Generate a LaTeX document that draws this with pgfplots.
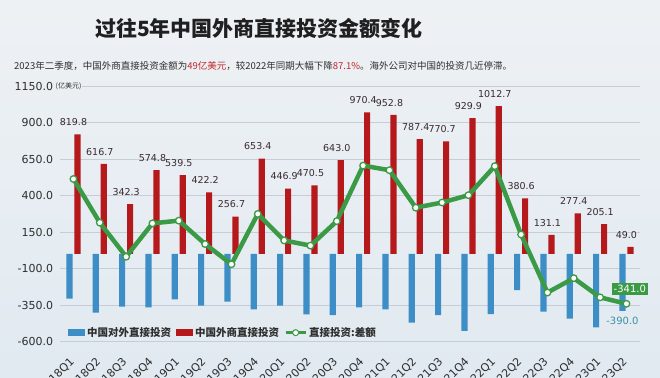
\documentclass[border=0pt]{standalone}
\usepackage{fontspec}
\setmainfont{DejaVu Sans}
\newfontfamily\cjk{Noto Sans CJK SC}
\usepackage{pgfplots}
\usepackage{pgfplotstable}
\pgfplotsset{compat=1.18}
\definecolor{bgtop}{HTML}{EEF1F4}
\definecolor{bgbot}{HTML}{E1EAF1}
\definecolor{bgmid}{HTML}{EBEFF3}
\definecolor{barred}{HTML}{B5191C}
\definecolor{barblue}{HTML}{3D8EC6}
\definecolor{lgreen}{HTML}{3B9A46}
\definecolor{gridc}{HTML}{C6CDD4}
\definecolor{txt}{HTML}{2E2E2E}
\definecolor{lbl}{HTML}{3A2A30}
\definecolor{hl}{HTML}{C0282D}
\definecolor{tealc}{HTML}{3E90A5}

\pgfplotstableread{
i fdi odi net
0 819.8 -306 513.8
1 616.7 -402 214.7
2 342.3 -361 -18.7
3 574.8 -365 209.8
4 539.5 -311 228.5
5 422.2 -354 68.2
6 256.7 -327 -70.3
7 653.4 -379 274.4
8 446.9 -354 92.9
9 470.5 -413 57.5
10 643.0 -418 225.0
11 970.4 -365 605.4
12 952.8 -379 573.8
13 787.4 -470 317.4
14 770.7 -418 352.7
15 929.9 -527 402.9
16 1012.7 -411 601.7
17 380.6 -247 133.6
18 131.1 -395 -263.9
19 277.4 -443 -165.6
20 205.1 -502 -296.9
21 49.0 -390 -341.0
}\data

\begin{document}
\begin{tikzpicture}[x=1pt,y=1pt]
\useasboundingbox (0,0) rectangle (660,377);
\shade[top color=bgtop, bottom color=bgbot] (0,0) rectangle (660,377);
\node[font=\cjk\bfseries\fontsize{21}{24}\selectfont, text=black!88] at (259,349) {过往5年中国外商直接投资金额变化};
\node[anchor=west, font=\cjk\fontsize{9.5}{11}\selectfont, text=txt, inner sep=0pt] at (14,311) {2023年二季度，中国外商直接投资金额为\textcolor{hl}{49亿美元}，较2022年同期大幅下降\textcolor{hl}{87.1\%}。海外公司对中国的投资几近停滞。};
\begin{axis}[
  at={(60.3pt,35.4pt)}, anchor=south west,
  scale only axis, width=579.3pt, height=255.5pt,
  xmin=-0.5, xmax=21.5, ymin=-600, ymax=1150,
  axis line style={draw=none},
  major tick length=0pt,
  ymajorgrids, grid style={gridc, line width=0.8pt},
  ytick={-600,-350,...,1150},
  yticklabel style={inner sep=0pt, anchor=east, xshift=-7pt, font=\fontsize{11}{13}\selectfont, text=txt},
  /pgf/number format/.cd, fixed, fixed zerofill, precision=1, 1000 sep={}, assume math mode=true,
  /pgfplots/.cd,
  xtick={0,...,21},
  xticklabels={2018Q1,2018Q2,2018Q3,2018Q4,2019Q1,2019Q2,2019Q3,2019Q4,2020Q1,2020Q2,2020Q3,2020Q4,2021Q1,2021Q2,2021Q3,2021Q4,2022Q1,2022Q2,2022Q3,2022Q4,2023Q1,2023Q2},
  xticklabel style={xshift=-1pt, yshift=-18pt, rotate=45, anchor=east, inner sep=0pt, font=\fontsize{11}{13}\selectfont, text=txt},
  legend style={at={(0.008,0.035)}, anchor=west, draw=none, fill=none, legend columns=3,
    font=\cjk\bfseries\fontsize{10.5}{12}\selectfont, text=txt,
    /tikz/every even column/.append style={column sep=3pt}},
  clip=false,
]
\addplot[ybar, bar width=6.2pt, bar shift=-4pt, fill=barblue, draw=none,
  legend image code/.code={\fill[barblue] (0pt,-3.5pt) rectangle (17pt,3.5pt);}]
  table[x=i, y=odi] {\data};
\addlegendentry{中国对外直接投资}
\addplot[ybar, bar width=6.2pt, bar shift=4pt, fill=barred, draw=none,
  legend image code/.code={\fill[barred] (0pt,-3.5pt) rectangle (17pt,3.5pt);}]
  table[x=i, y=fdi] {\data};
\addlegendentry{中国外商直接投资}
\addplot[lgreen, line width=4.5pt, mark=*, mark size=3.3pt,
  mark options={fill=white, draw=lgreen, line width=1.3pt},
  legend image code/.code={\draw[lgreen, line width=3pt] (0pt,0pt) -- (20pt,0pt); \draw[lgreen, fill=white, line width=1pt] (10pt,0pt) circle (3pt);}]
  table[x=i, y=net] {\data};
\addlegendentry{直接投资:差额}
\addplot[only marks, mark=none, nodes near coords={\pgfmathprintnumber[fixed,fixed zerofill,precision=1,1000 sep={}]{\pgfplotspointmeta}},
  nodes near coords style={anchor=south, yshift=8pt, xshift=0pt, font=\fontsize{9.5}{11}\selectfont, text=lbl, inner sep=0.5pt},
  point meta=explicit]
  table[x=i, y=fdi, meta=fdi] {\data};
\node[fill=lgreen, text=white, font=\fontsize{10}{12}\selectfont, inner sep=2pt, anchor=south] at (axis cs:21.13,-341) [yshift=9pt] {-341.0};
\node[text=tealc, font=\fontsize{10}{12}\selectfont, anchor=north, inner sep=0pt] at (axis cs:20.85,-390) [yshift=-6pt] {-390.0};
\node[anchor=west, fill=bgmid, inner sep=1pt, font=\cjk\fontsize{7}{8}\selectfont, text=txt] at (axis cs:-0.72,1150) {(亿美元)};
\end{axis}
\end{tikzpicture}
\end{document}
